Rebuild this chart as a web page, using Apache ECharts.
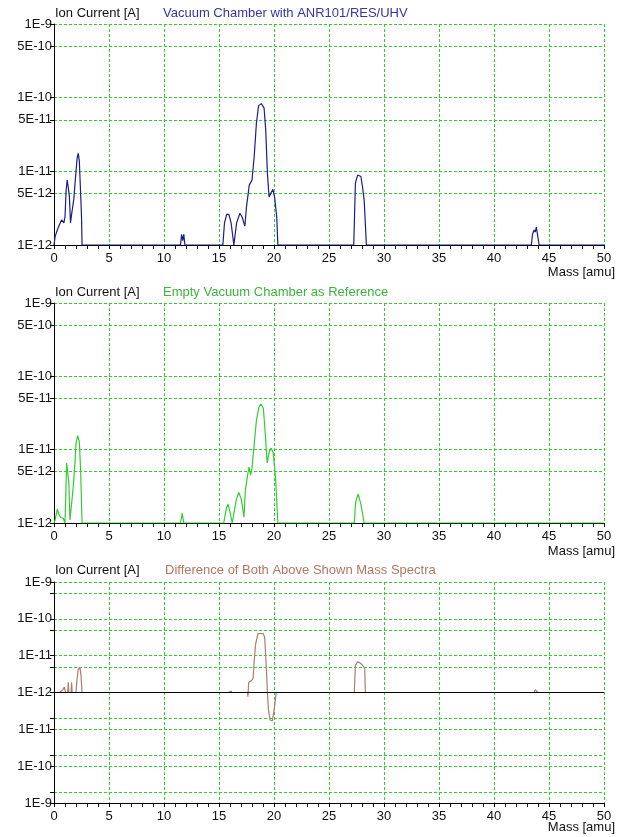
<!DOCTYPE html>
<html>
<head>
<meta charset="UTF-8">
<title>Mass Spectra</title>
<script src="https://cdn.jsdelivr.net/npm/echarts@6.0.0/dist/echarts.min.js"></script>
<style>
    html, body { margin: 0; padding: 0; background: #fff; }
    #main { width: 632px; height: 837px; }
</style>
</head>
<body>
<div id="main"></div>
<script>
    // mass axis [amu]
    var massMin = 0, massMax = 50, massStep = 5;

    // spectrum 1: vacuum chamber with ANR101/RES/UHV  (mass [amu], ion current [A])
    var massVac = [0, 0.1, 0.3, 0.5, 0.7, 0.9, 1.0, 1.1, 1.2, 1.3, 1.4, 1.5, 1.6, 1.7, 1.8, 1.9, 2.0, 2.1, 2.2, 2.3, 2.4, 2.5, 2.55,
        11.5, 11.6, 11.7, 11.8, 11.9,
        15.35, 15.5, 15.7, 15.9, 16.1, 16.35, 16.6, 16.9, 17.1, 17.35, 17.5, 17.75, 18.0, 18.2, 18.4, 18.6, 18.85, 19.1, 19.25, 19.4, 19.55, 19.7, 19.9, 20.05, 20.25, 20.35,
        27.25, 27.4, 27.6, 27.9, 28.05, 28.2, 28.4,
        43.4, 43.5, 43.65, 43.75, 43.85, 44.0, 44.1, 50];
    var ionVac = [1e-12, 1.3e-12, 1.6e-12, 1.9e-12, 2.2e-12, 2.0e-12, 2.4e-12, 5.5e-12, 7.6e-12, 6e-12, 4.5e-12, 2e-12, 2.6e-12, 3.3e-12, 4.2e-12, 6.5e-12, 1.0e-11, 1.5e-11, 1.75e-11, 1.4e-11, 6e-12, 2.5e-12, 1e-12,
        1e-12, 1.4e-12, 1.15e-12, 1.4e-12, 1e-12,
        1e-12, 2e-12, 2.6e-12, 2.6e-12, 2e-12, 1e-12, 2e-12, 2.7e-12, 2.4e-12, 1.8e-12, 3.3e-12, 6.5e-12, 7.6e-12, 1.6e-11, 4.5e-11, 7.8e-11, 8.3e-11, 7.2e-11, 3.6e-11, 9.4e-12, 4.5e-12, 4.7e-12, 5.7e-12, 4.5e-12, 2.4e-12, 1e-12,
        1e-12, 6.9e-12, 8.9e-12, 8.5e-12, 6.1e-12, 4e-12, 1e-12,
        1e-12, 1.4e-12, 1.6e-12, 1.5e-12, 1.75e-12, 1.75e-12, 1e-12, 1e-12];

    // spectrum 2: empty vacuum chamber as reference
    var massRef = [0, 0.1, 0.3, 0.45, 0.6, 0.85, 1.0, 1.15, 1.25, 1.35, 1.45, 1.55, 1.75, 1.9, 2.0, 2.15, 2.3, 2.42, 2.55,
        11.5, 11.65, 11.8,
        15.43, 15.67, 15.83, 16.03, 16.2, 16.58, 16.8, 17.03, 17.27, 17.4, 17.6, 17.73, 17.88, 18.0, 18.18, 18.4, 18.63, 18.8, 19.03, 19.2, 19.38, 19.57, 19.75, 19.93, 20.15, 20.35,
        27.3, 27.42, 27.65, 27.9, 28.2, 50];
    var ionRef = [1e-12, 1.1e-12, 1.55e-12, 1.3e-12, 1.2e-12, 1.15e-12, 1e-12, 6.6e-12, 6.9e-12, 3.5e-12, 1.1e-12, 1.1e-12, 3.1e-12, 6.5e-12, 1.2e-11, 1.55e-11, 1.3e-11, 5.3e-12, 1e-12,
        1e-12, 1.35e-12, 1e-12,
        1e-12, 1.6e-12, 1.8e-12, 1.35e-12, 1e-12, 2.1e-12, 2.6e-12, 2.1e-12, 1.2e-12, 2.8e-12, 4.5e-12, 5.8e-12, 4.5e-12, 5.6e-12, 1.1e-11, 2.5e-11, 3.8e-11, 4.2e-11, 3.7e-11, 1.7e-11, 6.6e-12, 9.4e-12, 1.05e-11, 9e-12, 3.9e-12, 1e-12,
        1e-12, 1.9e-12, 2.5e-12, 1.8e-12, 1e-12, 1e-12];

    // difference of both spectra (signed)
    var massDiff = [0, 0.5, 0.6, 0.8, 0.95, 1.05, 1.25, 1.3, 1.35, 1.55, 1.6, 1.65, 2.0, 2.1, 2.2, 2.35, 2.45, 2.55,
        15.85, 15.95, 16.1, 16.15,
        17.6, 17.63, 17.7, 17.95, 18.1, 18.18, 18.33, 18.55, 18.7, 19.0, 19.15, 19.3, 19.4, 19.5, 19.65, 19.85, 20.05, 20.2,
        27.3, 27.4, 27.6, 27.8, 28.05, 28.25, 28.3,
        43.65, 43.75, 43.86, 44.0, 50];
    var ionDiff = [0, 0, 1.1e-12, 1.2e-12, 1.4e-12, 0, 0, 1.9e-12, 0, 0, 1.9e-12, 0, 0, 2.4e-12, 4.2e-12, 4.9e-12, 3e-12, 0,
        0, 1.1e-12, 1.1e-12, 0,
        0, -1.3e-12, 1.9e-12, 2.1e-12, 2.4e-12, 6e-12, 2.1e-11, 4e-11, 4.2e-11, 4e-11, 3.2e-11, 4.9e-12, 0, -3e-12, -5.6e-12, -5.9e-12, -2.5e-12, 0,
        0, 5.5e-12, 6.8e-12, 6.5e-12, 5.5e-12, 4.5e-12, 0,
        0, 1.2e-12, 1.3e-12, 0, 0];

    // y ticks
    var logTicks = [1e-12, 5e-12, 1e-11, 5e-11, 1e-10, 5e-10, 1e-9];
    var logTickLabels = ['1E-12', '5E-12', '1E-11', '5E-11', '1E-10', '5E-10', '1E-9'];
    var diffTicks = [-1e-9, -5e-10, -1e-10, -5e-11, -1e-11, -5e-12, 0, 5e-12, 1e-11, 5e-11, 1e-10, 5e-10, 1e-9];
    var diffLabelTicks = [-1e-9, -1e-10, -1e-11, 0, 1e-11, 1e-10, 1e-9];
    var diffTickLabels = ['1E-9', '1E-10', '1E-11', '1E-12', '1E-11', '1E-10', '1E-9'];

    var FLOOR = 1e-12;
    // decades above 1E-12 (signed for the difference plot)
    function toLog(v) {
        var a = Math.abs(v);
        if (a <= FLOOR) return 0;
        var d = Math.log10(a / FLOOR);
        return v < 0 ? -d : d;
    }
    function labelFor(ticks, labels) {
        return function (val) {
            for (var i = 0; i < ticks.length; i++) {
                if (Math.abs(toLog(ticks[i]) - val) < 1e-6) return labels[i];
            }
            return '';
        };
    }
    function pairs(xs, ys) {
        return xs.map(function (x, i) { return [x, toLog(ys[i])]; });
    }
    // same as pairs, but the line is broken where it runs along the zero line
    function pairsBroken(xs, ys) {
        var out = [];
        xs.forEach(function (x, i) {
            if (i > 0 && toLog(ys[i]) === 0 && toLog(ys[i - 1]) === 0) {
                out.push([(x + xs[i - 1]) / 2, '-']);
            }
            out.push([x, toLog(ys[i])]);
        });
        return out;
    }

    var FONT = 'Liberation Sans';
    var gridColor = '#33cc33';
    var tops = [24, 303, 582];
    var heights = [221, 220, 221];

    function xAxisFor(i) {
        return {
            type: 'value', gridIndex: i, min: massMin, max: massMax, interval: massStep,
            axisLine: { show: true, onZero: false, lineStyle: { color: '#000', width: 1 } },
            axisTick: { show: true, length: 4, lineStyle: { color: '#000' } },
            minorTick: { show: true, splitNumber: 5, length: 4, lineStyle: { color: '#000' } },
            axisLabel: { color: '#111', fontSize: 13, fontFamily: FONT, margin: 7 },
            splitLine: { show: true, lineStyle: { color: gridColor, width: 1, type: [3, 2] } }
        };
    }
    function yAxisFor(i, min, max, tickVals, labelVals, fmt) {
        return {
            type: 'value', gridIndex: i, min: min, max: max,
            axisLine: { show: true, onZero: false, lineStyle: { color: '#000', width: 1 } },
            axisTick: { show: true, length: 4, customValues: tickVals.map(toLog), lineStyle: { color: '#000' } },
            axisLabel: { color: '#111', fontSize: 13, fontFamily: FONT, margin: 2, customValues: labelVals.map(toLog), formatter: fmt },
            splitLine: { show: true, lineStyle: { color: gridColor, width: 1, type: [3, 2] } }
        };
    }

    var titles = [
        { y: 15, text: 'Vacuum Chamber with ANR101/RES/UHV', color: '#3535a8', x: 163 },
        { y: 294, text: 'Empty Vacuum Chamber as Reference', color: '#3cb43c', x: 163 },
        { y: 572, text: 'Difference of Both Above Shown Mass Spectra', color: '#b07860', x: 165 }
    ];
    var massLabelY = [274, 553, 829];
    var graphics = [];
    titles.forEach(function (t, i) {
        graphics.push({ type: 'text', left: 55, top: t.y - 8, style: { text: 'Ion Current [A]', fill: '#111', font: '13px ' + FONT } });
        graphics.push({ type: 'text', left: t.x, top: t.y - 8, style: { text: t.text, fill: t.color, font: '13px ' + FONT } });
        graphics.push({ type: 'text', right: 17, top: massLabelY[i] - 8, style: { text: 'Mass [amu]', fill: '#111', font: '13px ' + FONT } });
    });

    var chart = echarts.init(document.getElementById('main'));
    var option = {
        animation: false,
        backgroundColor: '#fff',
        grid: tops.map(function (t, i) {
            return { left: 54, right: 28, top: t, height: heights[i] };
        }),
        xAxis: [xAxisFor(0), xAxisFor(1), xAxisFor(2)],
        yAxis: [
            yAxisFor(0, 0, 3, logTicks, logTicks, labelFor(logTicks, logTickLabels)),
            yAxisFor(1, 0, 3, logTicks, logTicks, labelFor(logTicks, logTickLabels)),
            yAxisFor(2, -3, 3, diffTicks, diffLabelTicks, labelFor(diffLabelTicks, diffTickLabels))
        ],
        graphic: graphics,
        series: [
            {
                name: 'ANR101', type: 'line', xAxisIndex: 0, yAxisIndex: 0,
                showSymbol: false, lineStyle: { color: '#1c1c8a', width: 1.2 }, itemStyle: { color: '#1c1c8a' },
                data: pairs(massVac, ionVac)
            },
            {
                name: 'Reference', type: 'line', xAxisIndex: 1, yAxisIndex: 1,
                showSymbol: false, lineStyle: { color: '#33cc33', width: 1.2 }, itemStyle: { color: '#33cc33' },
                data: pairs(massRef, ionRef)
            },
            {
                name: 'Difference', type: 'line', xAxisIndex: 2, yAxisIndex: 2,
                showSymbol: false, connectNulls: false,
                lineStyle: { color: '#a8806a', width: 1.2 }, itemStyle: { color: '#a8806a' },
                data: pairsBroken(massDiff, ionDiff),
                markLine: {
                    silent: true, symbol: 'none', label: { show: false },
                    lineStyle: { color: '#000', type: 'solid', width: 1 },
                    data: [{ yAxis: 0 }]
                }
            }
        ]
    };
    chart.setOption(option);
</script>
</body>
</html>
